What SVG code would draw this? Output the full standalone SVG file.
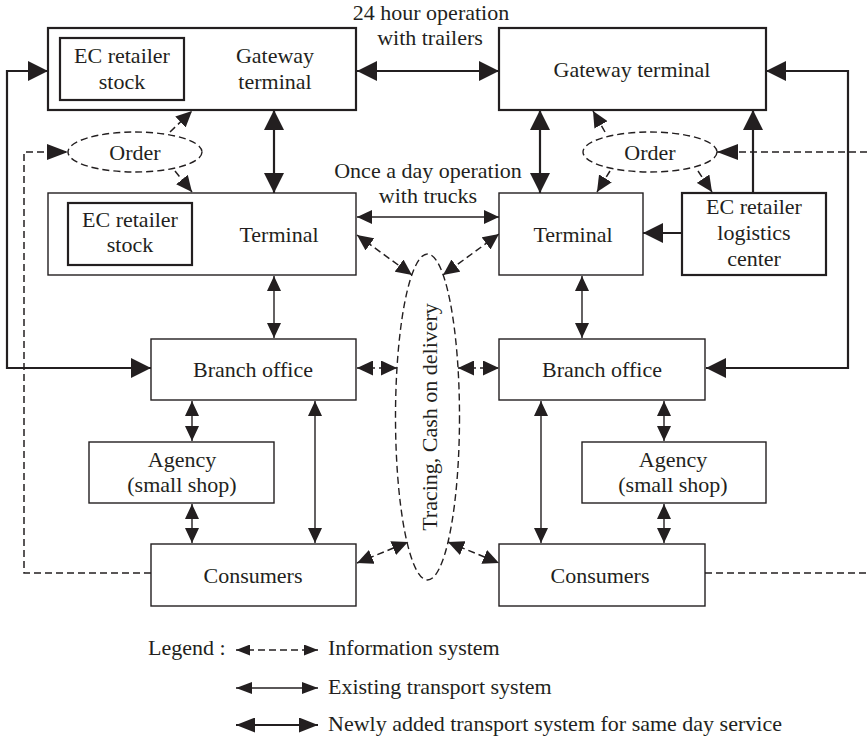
<svg xmlns="http://www.w3.org/2000/svg" width="867" height="743" viewBox="0 0 867 743">
  <style>
    text { font-family: "Liberation Serif", "Times New Roman", serif; font-size: 22px; fill: #231f20; text-anchor: middle; }
    .box { fill: #ffffff; stroke: #231f20; stroke-width: 1.4; }
    .boxb { fill: #ffffff; stroke: #231f20; stroke-width: 2.2; }
    .oval { fill: none; stroke: #231f20; stroke-width: 1.4; stroke-dasharray: 7 4; }
    .new { fill: none; stroke: #231f20; stroke-width: 2.2; }
    .old { fill: none; stroke: #231f20; stroke-width: 1.4; }
    .info { fill: none; stroke: #231f20; stroke-width: 1.5; stroke-dasharray: 7 4; }
    .left { text-anchor: start; }
  </style>
  <defs>
    <!-- arrowheads: tip sits on the line end -->
    <marker id="hN" markerUnits="userSpaceOnUse" viewBox="0 0 20 20" markerWidth="20" markerHeight="20" refX="20" refY="10" orient="auto-start-reverse">
      <path d="M0,0 L20,10 L0,20 z" fill="#231f20"/>
    </marker>
    <marker id="hE" markerUnits="userSpaceOnUse" viewBox="0 0 15 14" markerWidth="15" markerHeight="14" refX="15" refY="7" orient="auto-start-reverse">
      <path d="M0,0 L15,7 L0,14 z" fill="#231f20"/>
    </marker>
    <marker id="hI" markerUnits="userSpaceOnUse" viewBox="0 0 16 15" markerWidth="16" markerHeight="15" refX="16" refY="7.5" orient="auto-start-reverse">
      <path d="M0,0 L16,7.5 L0,15 z" fill="#231f20"/>
    </marker>
    <marker id="hO" markerUnits="userSpaceOnUse" viewBox="0 0 21 16" markerWidth="21" markerHeight="16" refX="21" refY="8" orient="auto-start-reverse">
      <path d="M0,0 L21,8 L0,16 z" fill="#231f20"/>
    </marker>
    <!-- slimmer heads for the legend samples -->
    <marker id="lI" markerUnits="userSpaceOnUse" viewBox="0 0 14 11" markerWidth="14" markerHeight="11" refX="14" refY="5.5" orient="auto-start-reverse">
      <path d="M0,0 L14,5.5 L0,11 z" fill="#231f20"/>
    </marker>
    <marker id="lE" markerUnits="userSpaceOnUse" viewBox="0 0 16 12" markerWidth="16" markerHeight="12" refX="16" refY="6" orient="auto-start-reverse">
      <path d="M0,0 L16,6 L0,12 z" fill="#231f20"/>
    </marker>
    <marker id="lN" markerUnits="userSpaceOnUse" viewBox="0 0 19 15" markerWidth="19" markerHeight="15" refX="19" refY="7.5" orient="auto-start-reverse">
      <path d="M0,0 L19,7.5 L0,15 z" fill="#231f20"/>
    </marker>
  </defs>

  <rect width="867" height="743" fill="#ffffff"/>

  <!-- connectors -->
  <g id="connectors">
    <!-- newly added transport (same day service) -->
    <line class="new" x1="357" y1="71" x2="499" y2="71" marker-start="url(#hN)" marker-end="url(#hN)"/>
    <path class="new" d="M48,71 H7 V368 H151" marker-start="url(#hN)" marker-end="url(#hN)"/>
    <path class="new" d="M766,71 H848 V368 H706" marker-start="url(#hN)" marker-end="url(#hN)"/>
    <line class="new" x1="274" y1="110" x2="274" y2="193" marker-start="url(#hN)" marker-end="url(#hN)"/>
    <line class="new" x1="540" y1="110" x2="540" y2="193" marker-start="url(#hN)" marker-end="url(#hN)"/>
    <line class="new" x1="753" y1="193" x2="753" y2="110" marker-end="url(#hN)"/>
    <line class="new" x1="682" y1="233" x2="643" y2="233" marker-end="url(#hN)"/>

    <!-- existing transport -->
    <line class="old" x1="357" y1="217" x2="499" y2="217" marker-start="url(#hE)" marker-end="url(#hE)"/>
    <line class="old" x1="274" y1="276" x2="274" y2="338" marker-start="url(#hE)" marker-end="url(#hE)"/>
    <line class="old" x1="582" y1="276" x2="582" y2="338" marker-start="url(#hE)" marker-end="url(#hE)"/>
    <line class="old" x1="192" y1="401" x2="192" y2="441" marker-start="url(#hE)" marker-end="url(#hE)"/>
    <line class="old" x1="192" y1="504" x2="192" y2="543" marker-start="url(#hE)" marker-end="url(#hE)"/>
    <line class="old" x1="315" y1="401" x2="315" y2="543" marker-start="url(#hE)" marker-end="url(#hE)"/>
    <line class="old" x1="541" y1="401" x2="541" y2="543" marker-start="url(#hE)" marker-end="url(#hE)"/>
    <line class="old" x1="664" y1="401" x2="664" y2="441" marker-start="url(#hE)" marker-end="url(#hE)"/>
    <line class="old" x1="664" y1="504" x2="664" y2="543" marker-start="url(#hE)" marker-end="url(#hE)"/>

    <!-- information system -->
    <path class="info" d="M151,573 H24 V152 H68" marker-end="url(#hO)"/>
    <line class="info" x1="867" y1="152" x2="717" y2="152" marker-end="url(#hO)"/>
    <line class="info" x1="705" y1="573" x2="867" y2="573"/>
    <line class="info" x1="170" y1="132" x2="192" y2="111" marker-end="url(#hI)"/>
    <line class="info" x1="175" y1="171" x2="192" y2="192" marker-end="url(#hI)"/>
    <line class="info" x1="605" y1="132" x2="593" y2="111" marker-end="url(#hI)"/>
    <line class="info" x1="610" y1="171" x2="597" y2="192" marker-end="url(#hI)"/>
    <line class="info" x1="698" y1="171" x2="712" y2="192" marker-end="url(#hI)"/>
    <line class="info" x1="357" y1="235" x2="412" y2="275" marker-start="url(#hI)" marker-end="url(#hI)"/>
    <line class="info" x1="499" y1="234" x2="443" y2="275" marker-start="url(#hI)" marker-end="url(#hI)"/>
    <line class="info" x1="357" y1="368" x2="397" y2="368" marker-start="url(#hI)" marker-end="url(#hI)"/>
    <line class="info" x1="458" y1="368" x2="499" y2="368" marker-start="url(#hI)" marker-end="url(#hI)"/>
    <line class="info" x1="357" y1="563" x2="408" y2="542" marker-start="url(#hI)" marker-end="url(#hI)"/>
    <line class="info" x1="448" y1="542" x2="499" y2="563" marker-start="url(#hI)" marker-end="url(#hI)"/>
  </g>

  <!-- link labels -->
  <g id="label-trailers">
    <text x="431" y="20">24 hour operation</text>
    <text x="430" y="45">with trailers</text>
  </g>
  <g id="label-trucks">
    <text x="428" y="178">Once a day operation</text>
    <text x="428" y="203">with trucks</text>
  </g>

  <!-- left side nodes -->
  <g id="gateway-left">
    <rect class="boxb" x="48" y="28" width="308" height="82"/>
    <rect class="boxb" x="60" y="38" width="124" height="62"/>
    <text x="122" y="63">EC retailer</text>
    <text x="122" y="89">stock</text>
    <text x="275" y="63">Gateway</text>
    <text x="275" y="89">terminal</text>
  </g>
  <g id="order-left">
    <ellipse class="oval" cx="135" cy="152" rx="67" ry="20"/>
    <text x="135" y="160">Order</text>
  </g>
  <g id="terminal-left">
    <rect class="box" x="48" y="193" width="308" height="82"/>
    <rect class="boxb" x="68" y="203" width="124" height="62"/>
    <text x="130" y="227">EC retailer</text>
    <text x="130" y="252">stock</text>
    <text x="279" y="242">Terminal</text>
  </g>
  <g id="branch-left">
    <rect class="box" x="151" y="339" width="205" height="61"/>
    <text x="253" y="377">Branch office</text>
  </g>
  <g id="agency-left">
    <rect class="box" x="89" y="442" width="185" height="61"/>
    <text x="182" y="467">Agency</text>
    <text x="182" y="492">(small shop)</text>
  </g>
  <g id="consumers-left">
    <rect class="box" x="151" y="544" width="205" height="62"/>
    <text x="253" y="583">Consumers</text>
  </g>

  <!-- shared tracing service -->
  <g id="tracing">
    <ellipse class="oval" cx="427.5" cy="417" rx="32" ry="163"/>
    <text transform="translate(437,417) rotate(-90)" x="0" y="0">Tracing, Cash on delivery</text>
  </g>

  <!-- right side nodes -->
  <g id="gateway-right">
    <rect class="boxb" x="499" y="28" width="267" height="82"/>
    <text x="632" y="77">Gateway terminal</text>
  </g>
  <g id="order-right">
    <ellipse class="oval" cx="650" cy="152" rx="67" ry="20"/>
    <text x="650" y="160">Order</text>
  </g>
  <g id="terminal-right">
    <rect class="box" x="499" y="193" width="144" height="82"/>
    <text x="573" y="242">Terminal</text>
  </g>
  <g id="logistics-center">
    <rect class="boxb" x="682" y="193" width="144" height="82"/>
    <text x="754" y="214">EC retailer</text>
    <text x="754" y="240">logistics</text>
    <text x="754" y="266">center</text>
  </g>
  <g id="branch-right">
    <rect class="box" x="499" y="339" width="206" height="61"/>
    <text x="602" y="377">Branch office</text>
  </g>
  <g id="agency-right">
    <rect class="box" x="582" y="442" width="184" height="61"/>
    <text x="673" y="467">Agency</text>
    <text x="673" y="492">(small shop)</text>
  </g>
  <g id="consumers-right">
    <rect class="box" x="499" y="544" width="206" height="62"/>
    <text x="600" y="583">Consumers</text>
  </g>

  <!-- legend -->
  <g id="legend">
    <text class="left" x="148" y="655">Legend :</text>
    <line class="info" x1="236" y1="650" x2="318" y2="650" marker-start="url(#lI)" marker-end="url(#lI)"/>
    <text class="left" x="328" y="655">Information system</text>
    <line class="old" x1="236" y1="688" x2="318" y2="688" marker-start="url(#lE)" marker-end="url(#lE)"/>
    <text class="left" x="328" y="694">Existing transport system</text>
    <line class="new" x1="236" y1="725" x2="318" y2="725" marker-start="url(#lN)" marker-end="url(#lN)"/>
    <text class="left" x="328" y="731">Newly added transport system for same day service</text>
  </g>
</svg>
